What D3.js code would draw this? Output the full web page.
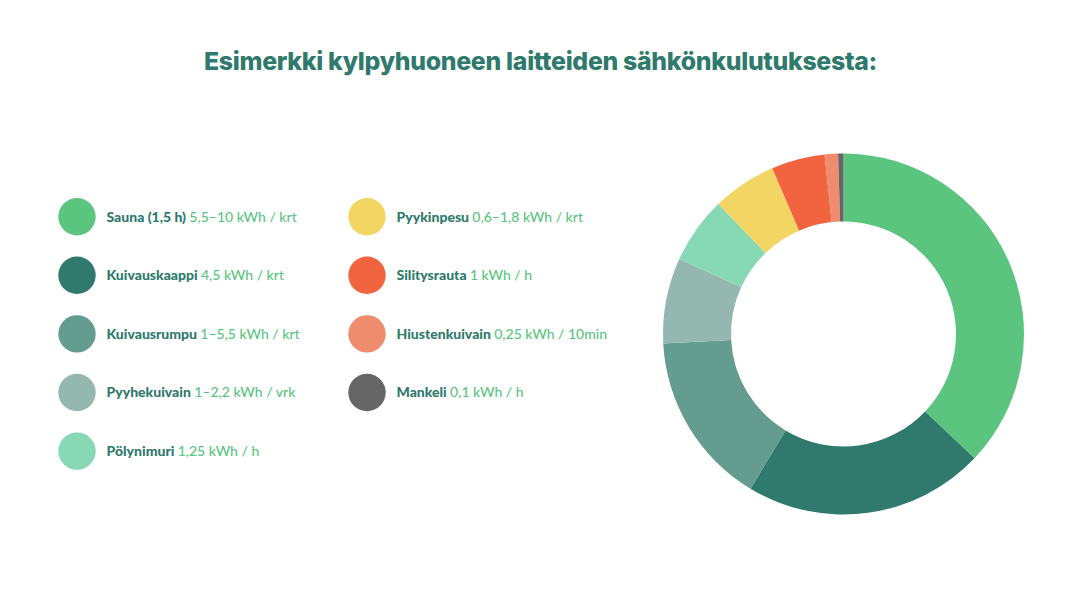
<!DOCTYPE html>
<html>
<head>
<meta charset="utf-8">
<script src="https://cdn.jsdelivr.net/npm/d3@7"></script>
<style>
  html, body { margin: 0; padding: 0; background: #ffffff; }
  svg { display: block; }
</style>
</head>
<body>
<svg id="chart" width="1081" height="601"></svg>
<script>
const title = "Esimerkki kylpyhuoneen laitteiden sähkönkulutuksesta:";
const categories = ["Sauna (1,5 h)", "Kuivauskaappi", "Kuivausrumpu", "Pyyhekuivain", "Pölynimuri", "Pyykinpesu", "Silitysrauta", "Hiustenkuivain", "Mankeli"];
const valueLabels = ["5,5–10 kWh / krt", "4,5 kWh / krt", "1–5,5 kWh / krt", "1–2,2 kWh / vrk", "1,25 kWh / h", "0,6–1,8 kWh / krt", "1 kWh / h", "0,25 kWh / 10min", "0,1 kWh / h"];
const values = [7.75, 4.5, 3.25, 1.6, 1.25, 1.2, 1, 0.25, 0.1];
const colors = ["#5bc57f", "#2f7a6c", "#659c90", "#94b8b0", "#86d9b4", "#f2d562", "#f26440", "#f08c6e", "#666666"];

const data = categories.map((c, i) => ({ name: c, label: valueLabels[i], value: values[i], color: colors[i] }));

const svg = d3.select("#chart");
const darkText = "#2f7a6c";
const greenText = "#5bc57f";

const titleEl = svg.append("text")
  .attr("x", 540.5).attr("y", 70)
  .attr("text-anchor", "middle")
  .attr("font-family", "Inter, sans-serif")
  .attr("font-weight", 800)
  .attr("font-size", 25)
  .attr("letter-spacing", -0.3)
  .attr("fill", darkText)
  .text(title);
// fit to reference width
const tw = titleEl.node().getComputedTextLength();
titleEl.attr("textLength", 673).attr("lengthAdjust", "spacingAndGlyphs");

// Donut
const cx = 843.5, cy = 334, outerR = 180.5, innerR = 112.5;
const pie = d3.pie().value(d => d.value).sort(null);
const arc = d3.arc().innerRadius(innerR).outerRadius(outerR);
svg.append("g").attr("transform", `translate(${cx},${cy})`)
  .selectAll("path").data(pie(data)).join("path")
  .attr("d", arc)
  .attr("fill", d => d.data.color);

// Legend
const colX = [77, 367];
const rowY = d3.scaleLinear().domain([0, 1]).range([216.7, 275.3]);
const perCol = 5;
const legend = svg.append("g");
data.forEach((d, i) => {
  const col = i < perCol ? 0 : 1;
  const row = i < perCol ? i : i - perCol;
  const g = legend.append("g").attr("transform", `translate(${colX[col]},${rowY(row)})`);
  g.append("circle").attr("r", 18.7).attr("fill", d.color);
  const t = g.append("text")
    .attr("x", 29.5).attr("y", 4.8)
    .attr("font-family", "Lato, sans-serif")
    .attr("font-size", 14);
  t.append("tspan").attr("font-weight", 900).attr("fill", darkText).text(d.name + " ");
  t.append("tspan").attr("font-weight", 500).attr("fill", greenText).text(d.label);
});
</script>
</body>
</html>
